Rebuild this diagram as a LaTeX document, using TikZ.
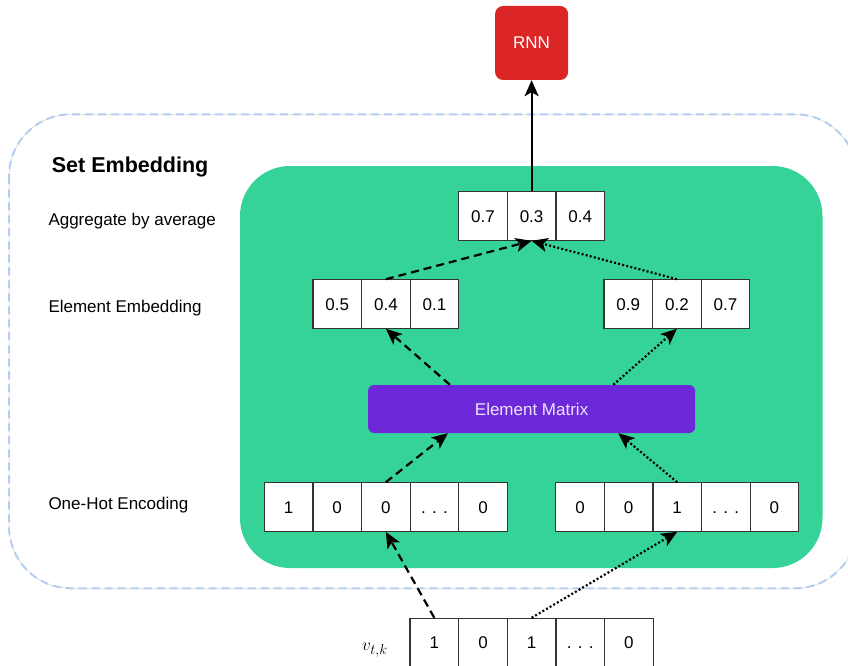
\documentclass[tikz,border=0pt]{standalone}
\usepackage{fontspec}
\setmainfont{Liberation Sans}
\usetikzlibrary{arrows.meta,positioning}

\definecolor{setgreen}{RGB}{54,211,153}
\definecolor{matpurple}{RGB}{109,40,217}
\definecolor{rnnred}{RGB}{220,38,38}
\definecolor{outerblue}{RGB}{179,206,240}
\definecolor{cellline}{RGB}{51,51,51}
\definecolor{mattext}{RGB}{236,228,252}

\tikzset{
  cell/.style={draw=cellline, fill=white, line width=1.2pt, minimum width=48.6pt,
    minimum height=48.4pt, inner sep=0pt, text height=12.2pt, text depth=0pt,
    font=\fontsize{17}{20}\selectfont},
  rowlabel/.style={anchor=base west, inner sep=0pt, font=\fontsize{17}{20}\selectfont},
  tipstyle/.tip={Stealth[length=16pt,width=14pt,inset=4pt]},
  link/.style={line width=2.2pt, -tipstyle},
  dashlink/.style={link, dash pattern=on 8pt off 5pt},
  dotlink/.style={link, dash pattern=on 2pt off 2.2pt},
}

\begin{document}
\begin{tikzpicture}[x=1pt,y=-1pt]
\useasboundingbox (0,0) rectangle (848,666);
\clip (0,0) rectangle (848,666);

% outer set-embedding frame
\draw[gray!35, line width=0.5pt, rounded corners=62pt] (9,114.3) rectangle (857,588.3);
\draw[outerblue, line width=2pt, dash pattern=on 8pt off 5pt, rounded corners=62pt]
  (9,114.3) rectangle (857,588.3);

% green panel
\fill[setgreen, rounded corners=50pt] (240,166) rectangle (822.5,568);

% row titles
\node[anchor=base west, inner sep=0pt, font=\fontsize{21.5}{24}\selectfont\bfseries]
  (title) at (51.7,172.7) {Set Embedding};
\node[rowlabel] (lagg) at (48.3,225.7) {Aggregate by average};
\node[rowlabel] (lemb) at (48.3,312) {Element Embedding};
\node[rowlabel] (lone) at (48.3,509.3) {One-Hot Encoding};

% RNN block
\node[fill=rnnred, rounded corners=8pt, minimum width=73pt, minimum height=74pt,
  text=white, font=\fontsize{17}{20}\selectfont] (rnn) at (531.6,43) {RNN};

% aggregated vector
\node[cell] (agg1) at (483.0,216) {0.7};
\node[cell] (agg2) at (531.6,216) {0.3};
\node[cell] (agg3) at (580.2,216) {0.4};

% element embeddings
\node[cell] (emA1) at (337.3,304) {0.5};
\node[cell] (emA2) at (385.9,304) {0.4};
\node[cell] (emA3) at (434.5,304) {0.1};
\node[cell] (emB1) at (628.3,304) {0.9};
\node[cell] (emB2) at (676.9,304) {0.2};
\node[cell] (emB3) at (725.5,304) {0.7};

% element matrix
\node[fill=matpurple, rounded corners=6pt, minimum width=327pt, minimum height=48pt,
  text=mattext, font=\fontsize{17}{20}\selectfont] (mat) at (531.6,409) {Element Matrix};

% one-hot encodings
\node[cell] (ohA1) at (288.6,507) {1};
\node[cell] (ohA2) at (337.2,507) {0};
\node[cell] (ohA3) at (385.8,507) {0};
\node[cell] (ohA4) at (434.4,507) {. . .};
\node[cell] (ohA5) at (483.0,507) {0};
\node[cell] (ohB1) at (580.0,507) {0};
\node[cell] (ohB2) at (628.6,507) {0};
\node[cell] (ohB3) at (677.2,507) {1};
\node[cell] (ohB4) at (725.8,507) {. . .};
\node[cell] (ohB5) at (774.4,507) {0};

% input set vector
\node[anchor=base west, inner sep=0pt, font=\fontsize{19}{22}\selectfont]
  (vlab) at (362,650) {$v_{t,k}$};
\node[cell] (v1) at (434.3,642.6) {1};
\node[cell] (v2) at (483.0,642.6) {0};
\node[cell] (v3) at (531.6,642.6) {1};
\node[cell] (v4) at (580.3,642.6) {. . .};
\node[cell] (v5) at (628.9,642.6) {0};

% connectors
\draw[dashlink] (v1.north) -- (ohA3.south);
\draw[dotlink] (v3.north) -- (ohB3.south);
\draw[dashlink] (ohA3.north) -- ([xshift=80pt]mat.south west);
\draw[dotlink] (ohB3.north) -- ([xshift=-77pt]mat.south east);
\draw[dashlink] ([xshift=82pt]mat.north west) -- (emA2.south);
\draw[dotlink] ([xshift=-82pt]mat.north east) -- (emB2.south);
\draw[dashlink] (emA2.north) -- (agg2.south);
\draw[dotlink] (emB2.north) -- (agg2.south);
\draw[link] (agg2.north) -- (rnn.south);
\end{tikzpicture}
\end{document}
